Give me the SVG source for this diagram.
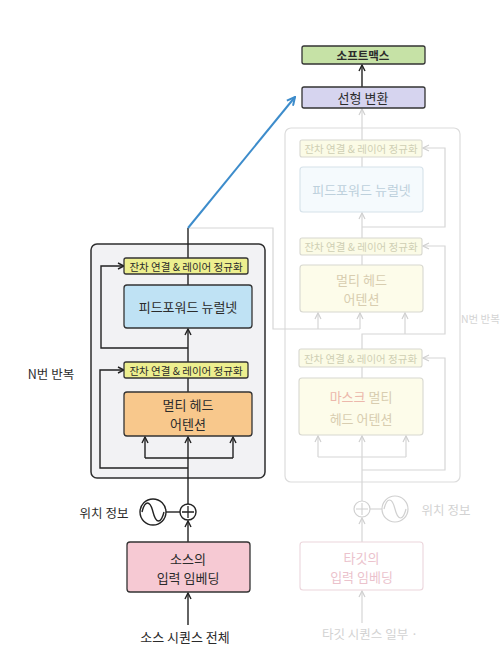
<svg xmlns="http://www.w3.org/2000/svg" width="502" height="657" viewBox="0 0 502 657">
<style>
text{font-family:"Noto Sans CJK KR","Noto Sans",sans-serif;text-anchor:middle;dominant-baseline:central}
.box{stroke:#333;stroke-width:1.3}
.t{fill:#2b2b2b}
.s{font-size:10.5px}
.m{font-size:13px}
.ln{fill:none;stroke:#222;stroke-width:1.4}
.fl{fill:none;stroke:#d6d6d6;stroke-width:1.2}
.fbox{stroke:#d8d8d0;stroke-width:1.1}
.ft{fill:#cfcfb4}
</style>
<defs>
<marker id="ad" viewBox="0 0 8 8" refX="7" refY="4" markerWidth="8" markerHeight="8" markerUnits="userSpaceOnUse" orient="auto"><path d="M1,1 L7,4 L1,7" fill="none" stroke="#222" stroke-width="1.4"/></marker>
<marker id="af" viewBox="0 0 8 8" refX="7" refY="4" markerWidth="8" markerHeight="8" markerUnits="userSpaceOnUse" orient="auto"><path d="M1,1 L7,4 L1,7" fill="none" stroke="#d0d0d0" stroke-width="1.2"/></marker>
<marker id="ab" viewBox="0 0 10 10" refX="9" refY="5" markerWidth="10" markerHeight="10" markerUnits="userSpaceOnUse" orient="auto"><path d="M1,1 L9,5 L1,9" fill="none" stroke="#3d8ccb" stroke-width="2"/></marker>
</defs>
<rect width="502" height="657" fill="#fff"/>

<g id="decoder-block"><rect x="285" y="128" width="175" height="354" rx="6" fill="none" stroke="#dcdcdc" stroke-width="1.2"/>
<text x="461" y="318" style="font-size:10.5px;text-anchor:start;fill:#d4d4d4">N번 반복</text></g>
<g id="encoder-block"><rect x="91" y="244" width="174" height="234" rx="6" fill="#f2f2f4" stroke="#2e2e2e" stroke-width="1.5"/>
<text x="51" y="373" class="t" style="font-size:12.5px">N번 반복</text></g>

<g id="connectors">
<path class="fl" d="M188,228 H273 V329 H360"/>
<path class="fl" d="M318,329 V313" marker-end="url(#af)"/>
<path class="fl" d="M360,329 V313" marker-end="url(#af)"/>
<path class="fl" d="M362,349 V334 H445 V246 H423" marker-end="url(#af)"/>
<path class="fl" d="M405,334 V313" marker-end="url(#af)"/>
<path class="fl" d="M362,265 V255"/>
<path class="fl" d="M362,238 V213" marker-end="url(#af)"/>
<path class="fl" d="M362,227 H445 V148 H423" marker-end="url(#af)"/>
<path class="fl" d="M362,167 V157"/>
<path class="fl" d="M362,140 V109" marker-end="url(#af)"/>
<path class="fl" d="M362,378 V367"/>
<path class="fl" d="M362,501 V457"/>
<path class="fl" d="M362,470 H445 V358 H423" marker-end="url(#af)"/>
<path class="fl" d="M318,457 H406"/>
<path class="fl" d="M318,457 V436" marker-end="url(#af)"/>
<path class="fl" d="M362,457 V436" marker-end="url(#af)"/>
<path class="fl" d="M406,457 V436" marker-end="url(#af)"/>
<path class="fl" d="M362,542 V518" marker-end="url(#af)"/>
<path class="fl" d="M362,623 V591" marker-end="url(#af)"/>
<path class="fl" d="M370,509 H382"/>
<path class="ln" d="M362,87 V65" marker-end="url(#ad)"/>
<path class="ln" d="M188,258 V228"/>
<path d="M188,228 L295,97" fill="none" stroke="#3d8ccb" stroke-width="2" marker-end="url(#ab)"/>
<path class="ln" d="M188,285 V273"/>
<path class="ln" d="M188,362 V329" marker-end="url(#ad)"/>
<path class="ln" d="M188,348 H101 V266 H124" marker-end="url(#ad)"/>
<path class="ln" d="M188,392 V378"/>
<path class="ln" d="M188,504 V458"/>
<path class="ln" d="M188,468 H100 V370 H124" marker-end="url(#ad)"/>
<path class="ln" d="M145,458 H233"/>
<path class="ln" d="M145,458 V437" marker-end="url(#ad)"/>
<path class="ln" d="M188,458 V437" marker-end="url(#ad)"/>
<path class="ln" d="M233,458 V437" marker-end="url(#ad)"/>
<path class="ln" d="M188,542 V521" marker-end="url(#ad)"/>
<path class="ln" d="M188,625 V593" marker-end="url(#ad)"/>
<path class="ln" d="M166,512 H180"/>
</g>

<g id="softmax"><rect class="box" x="302" y="46" width="123" height="18" rx="2" fill="#c6e2a6"/><text x="363" y="55" class="t" style="font-size:11.5px;font-weight:bold">소프트맥스</text></g>
<g id="linear"><rect class="box" x="302" y="87" width="123" height="21" rx="2" fill="#d6d4ef"/><text x="363" y="97.5" class="t m">선형 변환</text></g>

<g id="enc-norm1"><rect class="box" x="124" y="258" width="124" height="16" rx="2" fill="#edef8f"/><text x="186" y="266" class="t s">잔차 연결 &amp; 레이어 정규화</text></g>
<g id="enc-ffn"><rect class="box" x="124" y="285" width="128" height="43" rx="3" fill="#bfe2f4"/><text x="188" y="306.5" class="t m">피드포워드 뉴럴넷</text></g>
<g id="enc-norm2"><rect class="box" x="124" y="362" width="124" height="16" rx="2" fill="#edef8f"/><text x="186" y="370" class="t s">잔차 연결 &amp; 레이어 정규화</text></g>
<g id="enc-mha"><rect class="box" x="124" y="392" width="128" height="44" rx="3" fill="#f8c88c"/><text x="188" y="404" class="t m">멀티 헤드</text><text x="188" y="423" class="t m">어텐션</text></g>

<g id="enc-pos"><circle cx="153" cy="512" r="13" fill="#fff" stroke="#222" stroke-width="1.4"/><path d="M142,512 C145,500 150,500 153,512 C156,524 161,524 164,512" fill="none" stroke="#222" stroke-width="1.4"/>
<text x="104" y="512" class="t" style="font-size:12.5px">위치 정보</text></g>
<g id="enc-add"><circle cx="188" cy="512" r="8" fill="#fff" stroke="#222" stroke-width="1.4"/><path d="M182,512 H194 M188,506 V518" stroke="#222" stroke-width="1.3"/></g>
<g id="src-embed"><rect class="box" x="127" y="542" width="123" height="50" rx="3" fill="#f6c9d3"/><text x="188" y="558" class="t m">소스의</text><text x="188" y="577" class="t m">입력 임베딩</text></g>
<g id="src-input"><text x="185" y="636" class="t" style="font-size:13px">소스 시퀀스 전체</text></g>

<g id="dec-norm1"><rect class="fbox" x="300" y="140" width="122" height="17" rx="2" fill="#fbfbe6"/><text x="361" y="148.5" class="s ft">잔차 연결 &amp; 레이어 정규화</text></g>
<g id="dec-ffn"><rect x="300" y="167" width="123" height="45" rx="3" fill="#f5fafd" stroke="#d6e2ea" stroke-width="1.1"/><text x="361.5" y="189.5" class="m" style="fill:#bdd0dc">피드포워드 뉴럴넷</text></g>
<g id="dec-norm2"><rect class="fbox" x="300" y="238" width="122" height="17" rx="2" fill="#fbfbe6"/><text x="361" y="246.5" class="s ft">잔차 연결 &amp; 레이어 정규화</text></g>
<g id="dec-mha"><rect class="fbox" x="300" y="265" width="123" height="47" rx="3" fill="#fdfcea"/><text x="361.5" y="279" class="m" style="fill:#d8cdb0">멀티 헤드</text><text x="361.5" y="298" class="m" style="fill:#d8cdb0">어텐션</text></g>
<g id="dec-norm3"><rect class="fbox" x="299" y="349" width="123" height="18" rx="2" fill="#fbfbe6"/><text x="360.5" y="358" class="s ft">잔차 연결 &amp; 레이어 정규화</text></g>
<g id="dec-mmha"><rect class="fbox" x="299" y="378" width="124" height="57" rx="3" fill="#fdfcea"/><text x="361" y="396" class="m" style="fill:#d8cdb0"><tspan style="fill:#ecb8ac">마스크</tspan> 멀티</text><text x="361" y="418" class="m" style="fill:#d8cdb0">헤드 어텐션</text></g>
<g id="dec-add"><circle cx="362" cy="509" r="8" fill="#fff" stroke="#d0d0d0" stroke-width="1.2"/><path d="M356,509 H368 M362,503 V515" stroke="#d0d0d0" stroke-width="1.1"/></g>
<g id="dec-pos"><circle cx="395" cy="509" r="13" fill="#fff" stroke="#d0d0d0" stroke-width="1.2"/><path d="M384,509 C387,497 392,497 395,509 C398,521 403,521 406,509" fill="none" stroke="#d0d0d0" stroke-width="1.2"/>
<text x="446" y="509" style="font-size:12.5px;fill:#d2d2d2">위치 정보</text></g>
<g id="tgt-embed"><rect x="300" y="542" width="123" height="48" rx="3" fill="#fff" stroke="#ecd6dc" stroke-width="1.1"/><text x="361.5" y="557" class="m" style="fill:#ebc2cc">타깃의</text><text x="361.5" y="576" class="m" style="fill:#ebc2cc">입력 임베딩</text></g>
<g id="tgt-input"><text x="370" y="633" style="font-size:12.5px;fill:#d2d2d2">타깃 시퀀스 일부 ·</text></g>
</svg>
